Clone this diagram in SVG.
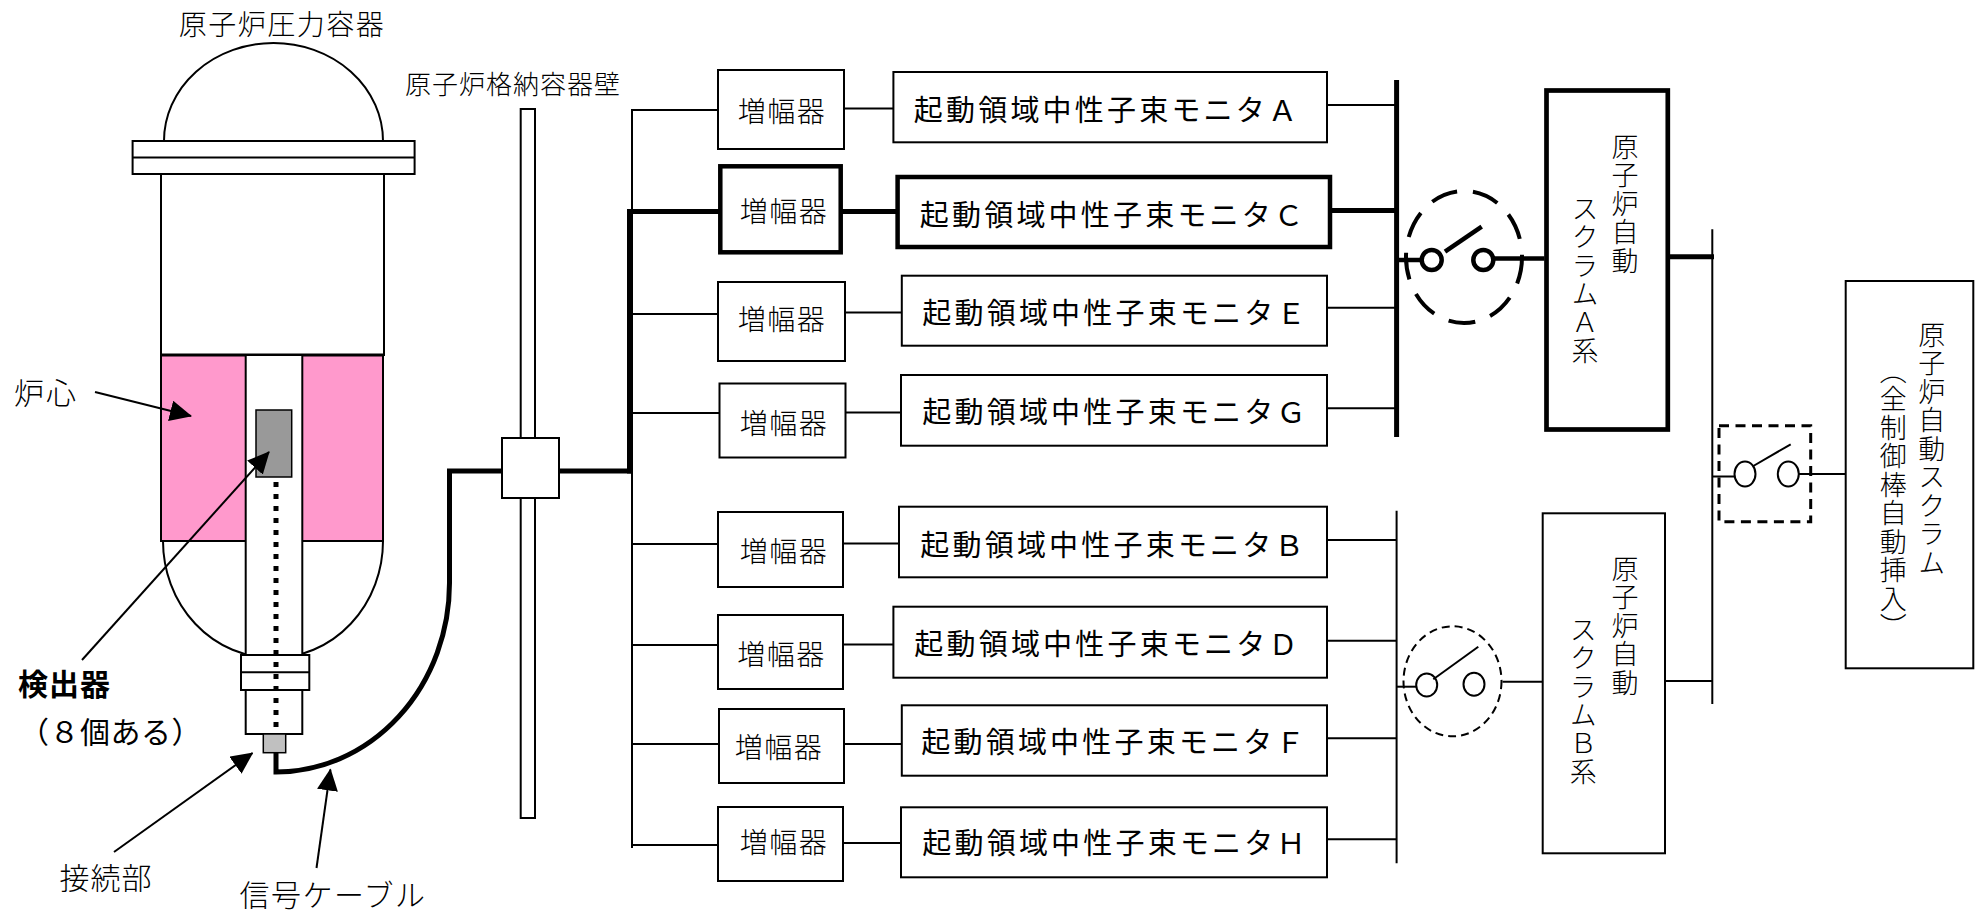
<svg xmlns="http://www.w3.org/2000/svg" width="1982" height="913" viewBox="0 0 1982 913">
  <style>
    .ln { fill: none; stroke: #000; stroke-width: 2; }
    .thk { fill: none; stroke: #000; stroke-width: 5; }
    .box { fill: #fff; stroke: #000; stroke-width: 2; }
    .boxb { fill: #fff; stroke: #000; stroke-width: 4.5; }
    .boxa { fill: #fff; stroke: #000; stroke-width: 4.7; }
    .min { font-family: "Noto Sans CJK JP", "Noto Sans", sans-serif; font-weight: 300; fill: #000; }
    .got { font-family: "Noto Sans CJK JP", "Noto Sans", sans-serif; fill: #000; }
    .amp { font-size: 28px; letter-spacing: 1.5px; text-anchor: middle; dominant-baseline: central; }
    .mon { font-size: 29px; letter-spacing: 3.2px; text-anchor: middle; dominant-baseline: central; }
    .vt { font-size: 27px; letter-spacing: 1.5px; writing-mode: vertical-rl; }
  </style>
  <defs>
    <marker id="arr" viewBox="0 0 22 21" refX="21" refY="10.5" markerWidth="22" markerHeight="21" markerUnits="userSpaceOnUse" orient="auto">
      <path d="M0,0 L22,10.5 L0,21 z" fill="#000"/>
    </marker>
  </defs>
  <rect width="1982" height="913" fill="#fff"/>

  <!-- reactor pressure vessel -->
  <g id="vessel">
    <text class="min" x="282" y="23" font-size="28" letter-spacing="1.5" text-anchor="middle" dominant-baseline="central">原子炉圧力容器</text>
    <path class="ln" d="M164,141 A109.5,98 0 0 1 383,141"/>
    <rect class="box" x="132.6" y="141" width="282" height="33"/>
    <line class="ln" x1="132.6" y1="157.5" x2="414.6" y2="157.5"/>
    <rect class="box" x="161" y="174" width="223" height="181"/>
    <path class="ln" d="M163,541 A110,117 0 0 0 383,541"/>
    <rect x="161" y="355" width="222" height="186" fill="#FF99CC" stroke="#000" stroke-width="2"/>
    <line x1="161" y1="355" x2="384" y2="355" stroke="#000" stroke-width="3"/>
    <rect class="box" x="245.7" y="355" width="56.6" height="379"/>
    <rect class="box" x="241" y="655" width="68.3" height="35"/>
    <line class="ln" x1="241" y1="672.3" x2="309.3" y2="672.3"/>
    <rect x="256" y="410" width="35.7" height="67" fill="#999" stroke="#000" stroke-width="1.5"/>
    <line x1="276" y1="482" x2="276" y2="734" stroke="#000" stroke-width="5" stroke-dasharray="5 7"/>
    <rect x="263.3" y="734" width="22.4" height="18.7" fill="#c0c0c0" stroke="#000" stroke-width="1.5"/>
  </g>

  <!-- side labels -->
  <g id="labels">
    <text class="min" x="46" y="391" font-size="30" letter-spacing="2" text-anchor="middle" dominant-baseline="central">炉心</text>
    <text class="got" x="18" y="682" font-size="30" font-weight="bold" letter-spacing="1" dominant-baseline="central">検出器</text>
    <text class="got" x="19" y="730" font-size="30" letter-spacing="0.5" dominant-baseline="central">（８個ある）</text>
    <text class="min" x="106" y="876" font-size="30" letter-spacing="1" text-anchor="middle" dominant-baseline="central">接続部</text>
    <text class="min" x="333" y="893" font-size="30" letter-spacing="1.5" text-anchor="middle" dominant-baseline="central">信号ケーブル</text>
  </g>

  <!-- containment wall with penetration -->
  <g id="containment-wall">
    <text class="min" x="513" y="82" font-size="26" letter-spacing="1" text-anchor="middle" dominant-baseline="central">原子炉格納容器壁</text>
    <rect class="box" x="520.7" y="109" width="14.3" height="709"/>
    <rect class="box" x="502" y="438" width="57" height="60"/>
  </g>

  <!-- amplifiers -->
  <g id="amp-a"><rect class="box" x="718" y="70" width="126" height="79"/><text class="min amp" x="782" y="110">増幅器</text></g>
  <g id="amp-c"><rect class="boxb" x="720.3" y="166.3" width="120.4" height="86"/><text class="min amp" x="784" y="210">増幅器</text></g>
  <g id="amp-e"><rect class="box" x="718" y="282" width="127" height="79"/><text class="min amp" x="782" y="318">増幅器</text></g>
  <g id="amp-g"><rect class="box" x="719.5" y="383.5" width="126" height="74"/><text class="min amp" x="784" y="422">増幅器</text></g>
  <g id="amp-b"><rect class="box" x="718" y="512" width="125" height="75"/><text class="min amp" x="784" y="550">増幅器</text></g>
  <g id="amp-d"><rect class="box" x="718" y="615" width="125" height="74"/><text class="min amp" x="781.5" y="653">増幅器</text></g>
  <g id="amp-f"><rect class="box" x="719" y="709" width="125" height="74"/><text class="min amp" x="779" y="746">増幅器</text></g>
  <g id="amp-h"><rect class="box" x="718" y="807" width="125" height="74"/><text class="min amp" x="784" y="841">増幅器</text></g>

  <!-- source range monitors -->
  <g id="srnm-a"><rect class="box" x="893.4" y="72" width="433.6" height="70.3"/><text class="got mon" x="1107" y="108">起動領域中性子束モニタＡ</text></g>
  <g id="srnm-c"><rect class="boxb" x="897.6" y="177" width="432.4" height="70"/><text class="got mon" x="1113" y="213">起動領域中性子束モニタＣ</text></g>
  <g id="srnm-e"><rect class="box" x="901.8" y="275.7" width="425.2" height="70"/><text class="got mon" x="1115.5" y="310.5">起動領域中性子束モニタＥ</text></g>
  <g id="srnm-g"><rect class="box" x="901" y="375" width="426" height="70.7"/><text class="got mon" x="1115.5" y="410">起動領域中性子束モニタＧ</text></g>
  <g id="srnm-b"><rect class="box" x="899" y="506.7" width="428" height="70.6"/><text class="got mon" x="1113.5" y="542.5">起動領域中性子束モニタＢ</text></g>
  <g id="srnm-d"><rect class="box" x="893.4" y="606.7" width="433.6" height="71"/><text class="got mon" x="1107.5" y="642">起動領域中性子束モニタＤ</text></g>
  <g id="srnm-f"><rect class="box" x="901.8" y="705.3" width="425.2" height="70.4"/><text class="got mon" x="1114.5" y="740">起動領域中性子束モニタＦ</text></g>
  <g id="srnm-h"><rect class="box" x="901" y="807.3" width="426" height="70"/><text class="got mon" x="1115.5" y="840.7">起動領域中性子束モニタＨ</text></g>

  <!-- scram logic channels -->
  <g id="scram-a">
    <rect class="boxa" x="1546.5" y="90.5" width="121.3" height="339"/>
    <text class="min vt" x="1625" y="133">原子炉自動</text>
    <text class="min vt" x="1585" y="195">スクラムＡ系</text>
  </g>
  <g id="scram-b">
    <rect class="box" x="1542.7" y="513.3" width="122.3" height="340"/>
    <text class="min vt" x="1625" y="555">原子炉自動</text>
    <text class="min vt" x="1583.3" y="616">スクラムＢ系</text>
  </g>
  <g id="scram-all">
    <rect class="box" x="1845.7" y="281" width="127.6" height="387.3"/>
    <text class="min vt" x="1931.7" y="321">原子炉自動スクラム</text>
    <text class="min vt" x="1893.3" y="357">（全制御棒自動挿入）</text>
  </g>

  <!-- trip contacts -->
  <g id="switch-a">
    <ellipse cx="1464" cy="257" rx="58" ry="66" fill="none" stroke="#000" stroke-width="4" stroke-dasharray="27 16"/>
    <circle cx="1431.7" cy="260" r="10" fill="#fff" stroke="#000" stroke-width="4.5"/>
    <circle cx="1483.3" cy="260" r="10" fill="#fff" stroke="#000" stroke-width="4.5"/>
    <line x1="1445" y1="251.7" x2="1481.7" y2="226.7" stroke="#000" stroke-width="4.5"/>
  </g>
  <g id="switch-b">
    <ellipse cx="1452.5" cy="681.3" rx="49" ry="55" fill="none" stroke="#000" stroke-width="2" stroke-dasharray="8 5"/>
    <ellipse cx="1426.7" cy="685" rx="10.5" ry="11.5" fill="#fff" stroke="#000" stroke-width="2"/>
    <ellipse cx="1474" cy="684.3" rx="10.5" ry="11.5" fill="#fff" stroke="#000" stroke-width="2"/>
    <line x1="1433.3" y1="679.3" x2="1478.3" y2="646.7" stroke="#000" stroke-width="2"/>
  </g>
  <g id="switch-main">
    <rect x="1719" y="425.7" width="91.7" height="96" fill="none" stroke="#000" stroke-width="3" stroke-dasharray="10 6.5"/>
    <ellipse cx="1745" cy="474" rx="10.5" ry="12.5" fill="#fff" stroke="#000" stroke-width="2"/>
    <ellipse cx="1788.3" cy="474" rx="10.5" ry="12.5" fill="#fff" stroke="#000" stroke-width="2"/>
    <line x1="1753.3" y1="466" x2="1790.7" y2="444.3" stroke="#000" stroke-width="2"/>
  </g>

  <!-- wiring -->
  <g id="connectors">
    <!-- signal cable through the wall -->
    <path class="thk" d="M276,752 V772 A173.5,189 0 0 0 449.5,583 V471 H502"/>
    <line class="thk" x1="559" y1="471" x2="631" y2="471"/>
    <line class="thk" x1="629.5" y1="209" x2="629.5" y2="473.5"/>
    <line class="thk" x1="627" y1="211.5" x2="720" y2="211.5"/>
    <line class="ln" x1="632" y1="109" x2="632" y2="848"/>
    <!-- bus to amplifiers -->
    <line class="ln" x1="631" y1="110" x2="718" y2="110"/>
    <line class="ln" x1="632" y1="314" x2="718" y2="314"/>
    <line class="ln" x1="632" y1="413" x2="719.5" y2="413"/>
    <line class="ln" x1="632" y1="544" x2="718" y2="544"/>
    <line class="ln" x1="632" y1="645" x2="718" y2="645"/>
    <line class="ln" x1="632" y1="744" x2="719" y2="744"/>
    <line class="ln" x1="632" y1="845" x2="718" y2="845"/>
    <!-- amplifiers to monitors -->
    <line class="ln" x1="844" y1="108.5" x2="893.4" y2="108.5"/>
    <line class="thk" x1="842" y1="211.5" x2="897" y2="211.5"/>
    <line class="ln" x1="845" y1="312.5" x2="901.8" y2="312.5"/>
    <line class="ln" x1="845.5" y1="412.5" x2="901" y2="412.5"/>
    <line class="ln" x1="843" y1="543.5" x2="899" y2="543.5"/>
    <line class="ln" x1="843" y1="644.5" x2="893.4" y2="644.5"/>
    <line class="ln" x1="844" y1="744" x2="901.8" y2="744"/>
    <line class="ln" x1="843" y1="843" x2="901" y2="843"/>
    <!-- monitors to trip buses -->
    <line class="ln" x1="1327" y1="105" x2="1397" y2="105"/>
    <line class="thk" x1="1332" y1="210.5" x2="1397" y2="210.5"/>
    <line class="ln" x1="1327" y1="307.7" x2="1397" y2="307.7"/>
    <line class="ln" x1="1327" y1="408.3" x2="1397" y2="408.3"/>
    <line class="ln" x1="1327" y1="540" x2="1397" y2="540"/>
    <line class="ln" x1="1327" y1="640.7" x2="1397" y2="640.7"/>
    <line class="ln" x1="1327" y1="738.3" x2="1397" y2="738.3"/>
    <line class="ln" x1="1327" y1="839.3" x2="1397" y2="839.3"/>
    <line class="thk" x1="1396.6" y1="80" x2="1396.6" y2="437"/>
    <line class="ln" x1="1396.6" y1="510.7" x2="1396.6" y2="863.3"/>
    <!-- trip contacts to scram channels -->
    <line x1="1397" y1="260" x2="1421.7" y2="260" stroke="#000" stroke-width="4.5"/>
    <line x1="1493.3" y1="258.5" x2="1544.5" y2="258.5" stroke="#000" stroke-width="4.5"/>
    <line class="ln" x1="1397" y1="686.7" x2="1416.2" y2="686.7"/>
    <line class="ln" x1="1502.5" y1="681.7" x2="1542.7" y2="681.7"/>
    <line class="thk" x1="1670" y1="256.7" x2="1714" y2="256.7"/>
    <line class="ln" x1="1665" y1="681" x2="1712.3" y2="681"/>
    <line class="ln" x1="1712.3" y1="229.3" x2="1712.3" y2="704"/>
    <line class="ln" x1="1712.3" y1="476.5" x2="1734.5" y2="476.5"/>
    <line class="ln" x1="1798.8" y1="474" x2="1845.7" y2="474"/>
    <!-- leader arrows -->
    <line class="ln" x1="95" y1="392" x2="191" y2="416" marker-end="url(#arr)"/>
    <line class="ln" x1="82" y1="660" x2="269" y2="452" marker-end="url(#arr)"/>
    <line class="ln" x1="114" y1="852" x2="252.5" y2="753" marker-end="url(#arr)"/>
    <line class="ln" x1="316.5" y1="868" x2="330.4" y2="769.5" marker-end="url(#arr)"/>
  </g>
</svg>
